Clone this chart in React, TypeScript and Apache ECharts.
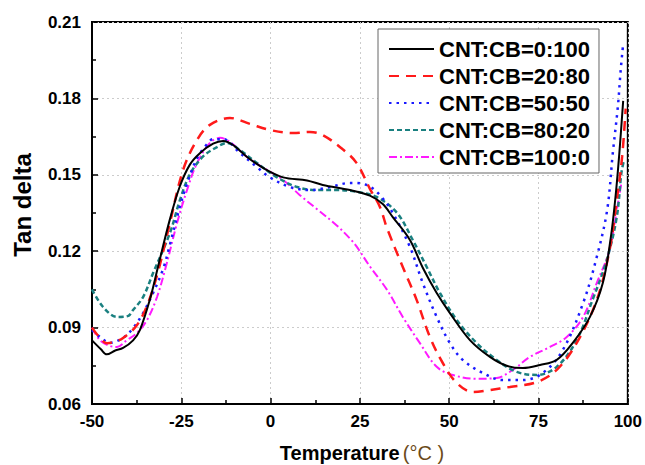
import React, { useEffect, useRef } from "react";
import * as echarts from "echarts";

const seriesNames = ["CNT:CB=0:100", "CNT:CB=20:80", "CNT:CB=50:50", "CNT:CB=80:20", "CNT:CB=100:0"];
const xTicks = [-50, -25, 0, 25, 50, 75, 100];
const yTicks = [0.06, 0.09, 0.12, 0.15, 0.18, 0.21];

const cb100: number[][] = [[-50,0.085],[-47.5,0.0815],[-45.9,0.0795],[-43.5,0.081],[-41.3,0.082],[-38.5,0.085],[-36.6,0.089],[-33.8,0.101],[-31.5,0.114],[-28.2,0.1325],[-25.4,0.1455],[-22.6,0.154],[-19.8,0.1585],[-16.1,0.1622],[-13.3,0.1633],[-10.5,0.1617],[-6.6,0.157],[-2.1,0.1527],[3.5,0.149],[10.2,0.1478],[14.6,0.146],[22.2,0.144],[27.8,0.1418],[31.4,0.1385],[34.2,0.1334],[39,0.1244],[42.6,0.1135],[46.5,0.1036],[50.2,0.0957],[55.8,0.0851],[61.4,0.0785],[66.1,0.075],[70.6,0.0741],[75.4,0.0753],[80.1,0.0773],[84.6,0.084],[89.4,0.0942],[93,0.1075],[95.2,0.125],[96.6,0.142],[97.6,0.158],[98.7,0.179]];
const cb80: number[][] = [[-50,0.09],[-47.8,0.086],[-45.8,0.0839],[-43.5,0.0845],[-41.3,0.0859],[-37.4,0.091],[-34.3,0.0997],[-31.5,0.112],[-28.2,0.131],[-24.5,0.1519],[-20.6,0.1637],[-17,0.1696],[-11.4,0.1723],[-5.8,0.17],[-0.2,0.1676],[6.3,0.1664],[11,0.1668],[14.6,0.1656],[20.2,0.16],[24.1,0.1546],[27.8,0.1445],[30.6,0.1374],[32.6,0.129],[37,0.1138],[40.9,0.1008],[44.6,0.0863],[48.2,0.0761],[52.1,0.0683],[56.6,0.0647],[61.4,0.0655],[67,0.0667],[74.5,0.0686],[80.1,0.0734],[85.7,0.084],[91.3,0.1008],[94.9,0.1205],[96.9,0.14],[98.4,0.157],[99.4,0.176]];
const cb50: number[][] = [[-50,0.089],[-47.5,0.086],[-45,0.084],[-41.3,0.086],[-38.5,0.0898],[-35.7,0.0957],[-32.9,0.1036],[-30.1,0.113],[-28.2,0.1225],[-25.4,0.1375],[-23.4,0.1465],[-20.6,0.1565],[-17.8,0.162],[-16.1,0.164],[-13.3,0.164],[-8.6,0.1586],[-3.8,0.153],[-0.2,0.149],[5.4,0.1452],[11,0.144],[16.6,0.1452],[22.2,0.1468],[26.9,0.146],[30.6,0.142],[34.2,0.135],[39,0.1217],[42.6,0.1075],[46.5,0.0942],[50.2,0.0839],[53.8,0.0773],[59.4,0.0722],[65,0.0694],[70.6,0.0694],[76.2,0.0722],[81.8,0.0812],[87.5,0.0997],[91.3,0.1177],[94.2,0.136],[95.8,0.1586],[97.2,0.1766],[98,0.191],[98.6,0.2]];
const cb20: number[][] = [[-50,0.105],[-46.9,0.0981],[-43,0.0942],[-40,0.0945],[-38.5,0.0969],[-35.7,0.102],[-32.9,0.1114],[-28.2,0.1271],[-25.4,0.14],[-22.6,0.1502],[-18.9,0.1572],[-15,0.1609],[-12.2,0.1625],[-8.6,0.1597],[-3.8,0.1546],[1.8,0.149],[7.4,0.1452],[13,0.144],[18.6,0.144],[24.1,0.1433],[29.7,0.1413],[35.4,0.135],[39.8,0.1244],[43.7,0.1138],[47.4,0.1036],[52.1,0.093],[57.7,0.0839],[63.3,0.0773],[68.9,0.0726],[74.5,0.0714],[80.1,0.0746],[85.7,0.0851],[90.1,0.1008],[94.1,0.1165],[96.9,0.1334],[98.2,0.1507],[98.8,0.155]];
const cb0: number[][] = [[-50,0.09],[-47.8,0.0851],[-45,0.0828],[-43,0.0824],[-40.2,0.0851],[-37.4,0.0879],[-34.6,0.093],[-31.8,0.102],[-29.3,0.114],[-26.2,0.131],[-23.4,0.144],[-20.6,0.1546],[-17,0.1625],[-14.2,0.1645],[-11.4,0.1629],[-6.6,0.157],[-1,0.1519],[3.5,0.148],[8.2,0.142],[13,0.1365],[18.6,0.13],[22.2,0.125],[24.1,0.1218],[27.8,0.114],[32.6,0.1048],[37,0.0942],[41.8,0.0839],[46.5,0.0746],[51,0.0714],[57.7,0.0699],[63.3,0.0702],[67.8,0.0734],[72.6,0.0785],[78.2,0.0824],[82.9,0.0863],[87.5,0.0942],[91.3,0.1075],[94.9,0.1205],[96.9,0.136],[98.2,0.1468]];

const seriesData = [cb100, cb80, cb50, cb20, cb0];
const colors = ["#000000", "#ff1a1a", "#1a1aff", "#1a8080", "#ff1aff"];
const dashes: any[] = ["solid", [10, 7], [2.5, 5], [5, 3], [8, 3, 2, 3]];
const widths = [2, 2.5, 2.5, 2.5, 2];

export default function App() {
  const ref = useRef<HTMLDivElement>(null);
  useEffect(() => {
    document.body.style.margin = "0";
    const chart = echarts.init(ref.current!, null, { renderer: "svg" });
    const font = "'Liberation Sans', Arial, sans-serif";
    chart.setOption({
      animation: false,
      backgroundColor: "#ffffff",
      textStyle: { fontFamily: font },
      grid: {
        left: 92, right: 17, top: 22, bottom: 61,
        show: true, borderColor: "#000", borderWidth: 2,
      },
      legend: {
        orient: "vertical",
        left: 378, top: 29,
        padding: [9, 9, 5, 10],
        itemWidth: 45, itemHeight: 14, itemGap: 5,
        borderColor: "#666", borderWidth: 1,
        backgroundColor: "#fff",
        data: seriesNames,
        itemStyle: { opacity: 0 },
        textStyle: { fontSize: 22, fontWeight: "bold", color: "#000", fontFamily: font },
      },
      xAxis: {
        type: "value", min: -50, max: 100, interval: 25,
        axisLine: { show: true, onZero: false, lineStyle: { color: "#000", width: 2 } },
        axisTick: { show: true, inside: true, length: 6, lineStyle: { color: "#000", width: 1.5 } },
        minorTick: { show: true, splitNumber: 2, length: 4, lineStyle: { color: "#000", width: 1.5 } },
        splitLine: { show: true, lineStyle: { color: "#ccc", type: [2, 3], width: 1 } },
        axisLabel: { fontSize: 17, fontWeight: "bold", color: "#000", margin: 9, fontFamily: font },
      },
      yAxis: {
        type: "value", min: 0.06, max: 0.21, interval: 0.03,
        axisLine: { show: true, onZero: false, lineStyle: { color: "#000", width: 2 } },
        axisTick: { show: true, inside: true, length: 6, lineStyle: { color: "#000", width: 1.5 } },
        minorTick: { show: true, splitNumber: 2, length: 4, lineStyle: { color: "#000", width: 1.5 } },
        splitLine: { show: true, lineStyle: { color: "#ccc", type: [2, 3], width: 1 } },
        axisLabel: {
          fontSize: 17, fontWeight: "bold", color: "#000", margin: 11, fontFamily: font,
          formatter: (v: number) => v.toFixed(2),
        },
      },
      graphic: [
        {
          type: "text", x: 22, y: 205, rotation: Math.PI / 2,
          style: { text: "Tan delta", font: `bold 24px ${font}`, fill: "#000", textAlign: "center", textVerticalAlign: "middle" },
        },
        {
          type: "text", x: 362, y: 453,
          style: {
            text: "{a|Temperature} {b|(°C )}",
            textAlign: "center", textVerticalAlign: "middle",
            rich: {
              a: { fontSize: 20, fontWeight: "bold", fill: "#000", fontFamily: font },
              b: { fontSize: 20, fontWeight: "normal", fill: "#6b4a1a", fontFamily: font },
            },
          },
        },
      ],
      series: seriesNames.map((name, i) => ({
        name, type: "line", data: seriesData[i],
        showSymbol: false, symbol: "none",
        smooth: 0.35,
        lineStyle: { color: colors[i], width: widths[i], type: dashes[i] },
        itemStyle: { color: colors[i] },
        z: 5 - i,
      })),
    });
    return () => chart.dispose();
  }, []);
  return <div ref={ref} style={{ width: 645, height: 465 }} />;
}
